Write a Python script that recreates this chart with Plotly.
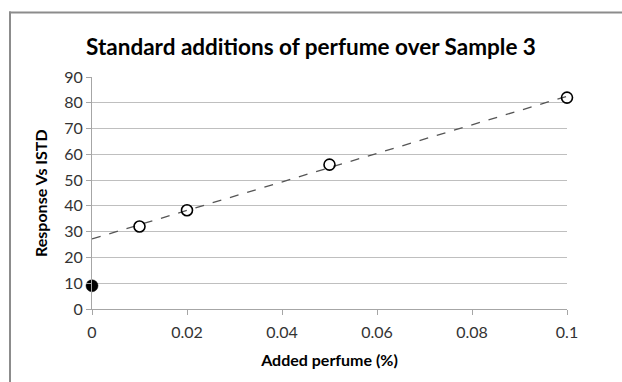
import numpy as np
import plotly.graph_objects as go

# Data
std_x = [0.01, 0.02, 0.05, 0.1]
std_y = [32.0, 38.3, 56.0, 82.0]
sample_x = [0.0]
sample_y = [9.0]
x_ticks = [0, 0.02, 0.04, 0.06, 0.08, 0.1]
x_tick_labels = ["0", "0.02", "0.04", "0.06", "0.08", "0.1"]
y_ticks = [0, 10, 20, 30, 40, 50, 60, 70, 80, 90]

slope, intercept = np.polyfit(std_x, std_y, 1)
trend_x = [0.0, 0.1]
trend_y = [intercept + slope * v for v in trend_x]

fig = go.Figure()
fig.add_trace(go.Scatter(x=trend_x, y=trend_y, mode="lines",
                         line=dict(color="#555555", width=1.3, dash="dash"),
                         showlegend=False, hoverinfo="skip", cliponaxis=False))
fig.add_trace(go.Scatter(x=std_x, y=std_y, mode="markers",
                         marker=dict(symbol="circle-open", size=11,
                                     line=dict(color="black", width=1.6), color="black"),
                         showlegend=False, cliponaxis=False))
fig.add_trace(go.Scatter(x=sample_x, y=sample_y, mode="markers",
                         marker=dict(symbol="circle", size=12, color="black",
                                     line=dict(color="black", width=0.5)),
                         showlegend=False, cliponaxis=False))

L, R, T, B = 92, 55, 77, 73
W, H = 622, 382
pw = W - L - R
ph = H - T - B

def px_to_paper_x(px):
    return (px - L) / pw

def px_to_paper_y(py):
    return (H - B - py) / ph

# chart frame (top and left edges visible in the crop)
fig.add_shape(type="line", xref="paper", yref="paper",
              x0=px_to_paper_x(9), x1=px_to_paper_x(W),
              y0=px_to_paper_y(12.5), y1=px_to_paper_y(12.5),
              line=dict(color="#8c8c8c", width=2), layer="below")
fig.add_shape(type="line", xref="paper", yref="paper",
              x0=px_to_paper_x(10), x1=px_to_paper_x(10),
              y0=px_to_paper_y(11.5), y1=px_to_paper_y(H),
              line=dict(color="#8c8c8c", width=2), layer="below")

# y-axis title placed as rotated text
fig.add_annotation(text="<b>Response Vs ISTD</b>", textangle=-90,
                   xref="paper", yref="paper",
                   x=px_to_paper_x(40), y=0.5, xanchor="center", yanchor="middle",
                   showarrow=False, font=dict(size=16, color="black"))

fig.update_layout(
    width=W, height=H,
    margin=dict(l=L, r=R, t=T, b=B),
    paper_bgcolor="white", plot_bgcolor="white",
    font=dict(family="Lato, 'Open Sans', sans-serif", color="#222222"),
    title=dict(text="<b>Standard additions of perfume over Sample 3</b>",
               x=0.5, xanchor="center", y=1 - 47 / H, yanchor="middle",
               font=dict(size=22.5, color="black")),
    xaxis=dict(range=[0, 0.1], tickvals=x_ticks, ticktext=x_tick_labels,
               showgrid=False, zeroline=False, showline=True, linecolor="#a6a6a6",
               linewidth=1, ticks="outside", ticklen=5, tickcolor="#a6a6a6",
               ticklabelstandoff=4,
               tickfont=dict(size=16, color="#333333"),
               title=dict(text="<b>Added perfume (%)</b>", font=dict(size=16, color="black"),
                          standoff=14)),
    yaxis=dict(range=[0, 90], tickvals=y_ticks, showgrid=True, gridcolor="#bfbfbf",
               gridwidth=1, zeroline=False, showline=True, linecolor="#a6a6a6",
               linewidth=1, ticks="outside", ticklen=5, tickcolor="#a6a6a6",
               ticksuffix="\u00a0\u00a0\u00a0\u00a0",
               tickfont=dict(size=16, color="#333333")),
)

fig.write_html("out.html")
